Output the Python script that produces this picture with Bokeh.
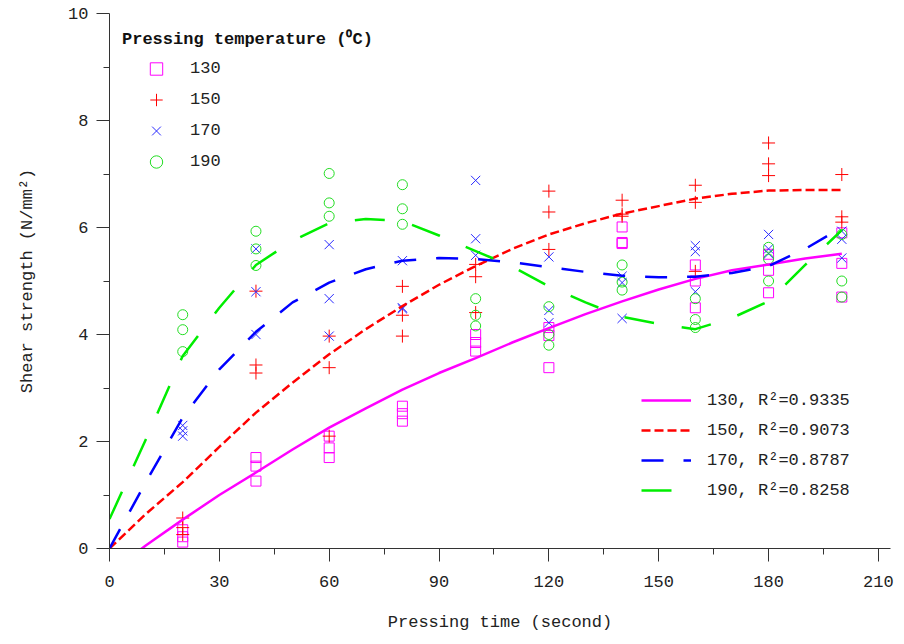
from bokeh.plotting import figure
from bokeh.models import Range1d, FixedTicker, Legend, LegendItem
from bokeh.embed import file_html
from bokeh.resources import INLINE

# ---------------- data ----------------
times = [20, 40, 60, 80, 100, 120, 140, 160, 180, 200]
x_ticks = [0, 30, 60, 90, 120, 150, 180, 210]
y_ticks = [0, 2, 4, 6, 8, 10]

# replicate measurements (three per pressing time)
strength_130 = [[0.35, 0.22, 0.12], [1.70, 1.54, 1.26], [2.10, 1.88, 1.70], [2.66, 2.52, 2.38],
                [4.00, 3.85, 3.69], [4.13, 3.98, 3.38], [6.01, 5.70, 5.72], [5.30, 5.00, 4.50],
                [5.50, 5.20, 4.78], [5.90, 5.33, 4.70]]
strength_150 = [[0.57, 0.39, 0.26], [4.81, 3.43, 3.28], [3.97, 3.38, 2.10], [4.90, 4.36, 3.97],
                [5.31, 5.08, 4.41], [6.68, 6.29, 5.59], [6.51, 6.21, 6.25], [6.79, 6.47, 5.18],
                [7.58, 7.19, 6.97], [6.99, 6.20, 6.10]]
strength_170 = [[2.30, 2.20, 2.10], [5.60, 4.80, 4.00], [5.68, 4.67, 3.97], [5.38, 4.48, 4.50],
                [6.88, 5.79, 5.48], [5.45, 4.45, 4.22], [5.09, 4.97, 4.30], [5.66, 5.55, 4.80],
                [5.87, 5.60, 5.51], [5.93, 5.78, 5.43]]
strength_190 = [[4.37, 4.09, 3.68], [5.93, 5.60, 5.29], [7.01, 6.46, 6.21], [6.80, 6.35, 6.06],
                [4.67, 4.36, 4.16], [4.52, 4.00, 3.80], [5.30, 4.98, 4.83], [4.67, 4.28, 4.13],
                [5.63, 5.41, 5.00], [5.87, 5.00, 4.70]]

# fitted trend curves
fit_x = [0, 10, 20, 30, 40, 50, 60, 70, 80, 90, 100, 110, 120, 130, 140, 150, 160, 170, 180, 190, 200]
fit_130 = [-0.45, 0.06, 0.54, 1.00, 1.42, 1.85, 2.26, 2.62, 2.97, 3.28, 3.56, 3.85, 4.12, 4.38, 4.62,
           4.84, 5.04, 5.20, 5.31, 5.42, 5.51]
fit_150 = [0.00, 0.65, 1.24, 1.90, 2.54, 3.10, 3.63, 4.10, 4.53, 4.93, 5.28, 5.60, 5.87, 6.08, 6.26,
           6.40, 6.54, 6.63, 6.69, 6.70, 6.70]
fit_170 = [0.00, 1.25, 2.45, 3.35, 4.05, 4.60, 4.97, 5.22, 5.38, 5.43, 5.41, 5.35, 5.26, 5.17, 5.10,
           5.07, 5.08, 5.15, 5.28, 5.60, 6.00]
fit_190 = [0.55, 2.05, 3.60, 4.50, 5.30, 5.75, 6.08, 6.16, 6.12, 5.85, 5.56, 5.27, 4.90, 4.60, 4.33,
           4.20, 4.10, 4.31, 4.62, 5.30, 5.95]

series_labels = ["130", "150", "170", "190"]
r2_values = ["0.9335", "0.9073", "0.8787", "0.8258"]


def flatten(ts, reps):
    xs, ys = [], []
    for t, r in zip(ts, reps):
        for v in r:
            xs.append(t)
            ys.append(v)
    return xs, ys


FONT = "Liberation Mono"

p = figure(width=896, height=636, x_range=Range1d(0, 213.3), y_range=Range1d(0, 10),
           output_backend="svg", toolbar_location=None,
           min_border_left=109, min_border_right=6, min_border_top=13, min_border_bottom=88,
           background_fill_color="white", border_fill_color="white")
p.outline_line_color = None
p.grid.visible = False

p.xaxis.ticker = FixedTicker(ticks=x_ticks, minor_ticks=[t + 15 for t in x_ticks[:-1]])
p.yaxis.ticker = FixedTicker(ticks=y_ticks, minor_ticks=[t + 1 for t in y_ticks[:-1]])
p.xaxis.axis_label = "Pressing time (second)"
p.yaxis.axis_label = "Shear strength (N/mm\u00b2)"

for ax in (p.xaxis[0], p.yaxis[0]):
    ax.axis_line_color = "#333333"
    ax.major_tick_line_color = "#333333"
    ax.minor_tick_line_color = "#333333"
    ax.major_tick_in = 0
    ax.major_tick_out = 13
    ax.minor_tick_in = 0
    ax.minor_tick_out = 6
    ax.major_label_text_font = FONT
    ax.major_label_text_font_size = "17px"
    ax.major_label_text_color = "#222222"
    ax.axis_label_text_font = FONT
    ax.axis_label_text_font_size = "17px"
    ax.axis_label_text_font_style = "normal"
    ax.axis_label_text_color = "#222222"

p.xaxis.major_label_standoff = 14
p.xaxis.axis_label_standoff = 23
p.yaxis.major_label_standoff = 8
p.yaxis.axis_label_standoff = 28

# markers
x1, y1 = flatten(times, strength_130)
x2, y2 = flatten(times, strength_150)
x3, y3 = flatten(times, strength_170)
x4, y4 = flatten(times, strength_190)
r130 = p.scatter(x1, y1, marker="square", size=10, fill_color=None, line_color="#ff00ff", line_width=1)
r150 = p.scatter(x2, y2, marker="cross", size=13, line_color="#ff0000", line_width=1)
r170 = p.scatter(x3, y3, marker="x", size=13, line_color="#2a2aff", line_width=1)
r190 = p.scatter(x4, y4, marker="circle", size=10, fill_color=None, line_color="#22dd22", line_width=1)

# trend curves
l130 = p.line(fit_x, fit_130, line_color="#ff00ff", line_width=2.5)
l150 = p.line(fit_x, fit_150, line_color="#ff0000", line_width=2.5, line_dash="9 4")
l170 = p.line(fit_x, fit_170, line_color="#0000ff", line_width=2.5, line_dash="22 20")
l190 = p.line(fit_x, fit_190, line_color="#00ee00", line_width=2.5, line_dash="30 28")

leg1 = Legend(
    items=[LegendItem(label=lab, renderers=[r]) for lab, r in zip(series_labels, [r130, r150, r170, r190])],
    location="top_left", margin=13, padding=8, spacing=0,
    title="Pressing temperature (\u2070C)",
    title_text_font=FONT, title_text_font_size="17px", title_text_font_style="bold",
    title_text_color="#111111", title_standoff=4,
    glyph_width=68, glyph_height=31, label_standoff=0,
    label_text_font=FONT, label_text_font_size="17px", label_text_color="#222222",
    background_fill_alpha=0, border_line_color=None,
)
p.add_layout(leg1)

leg2 = Legend(
    items=[LegendItem(label=f"{lab}, R\u00b2={r2}", renderers=[r])
           for lab, r2, r in zip(series_labels, r2_values, [l130, l150, l170, l190])],
    location=(532, 43), margin=0, padding=5, spacing=0,
    glyph_width=50, glyph_height=30, label_standoff=16,
    label_text_font=FONT, label_text_font_size="17px", label_text_color="#222222",
    background_fill_alpha=0, border_line_color=None,
)
p.add_layout(leg2)

open("out.html", "w").write(file_html(p, INLINE))
